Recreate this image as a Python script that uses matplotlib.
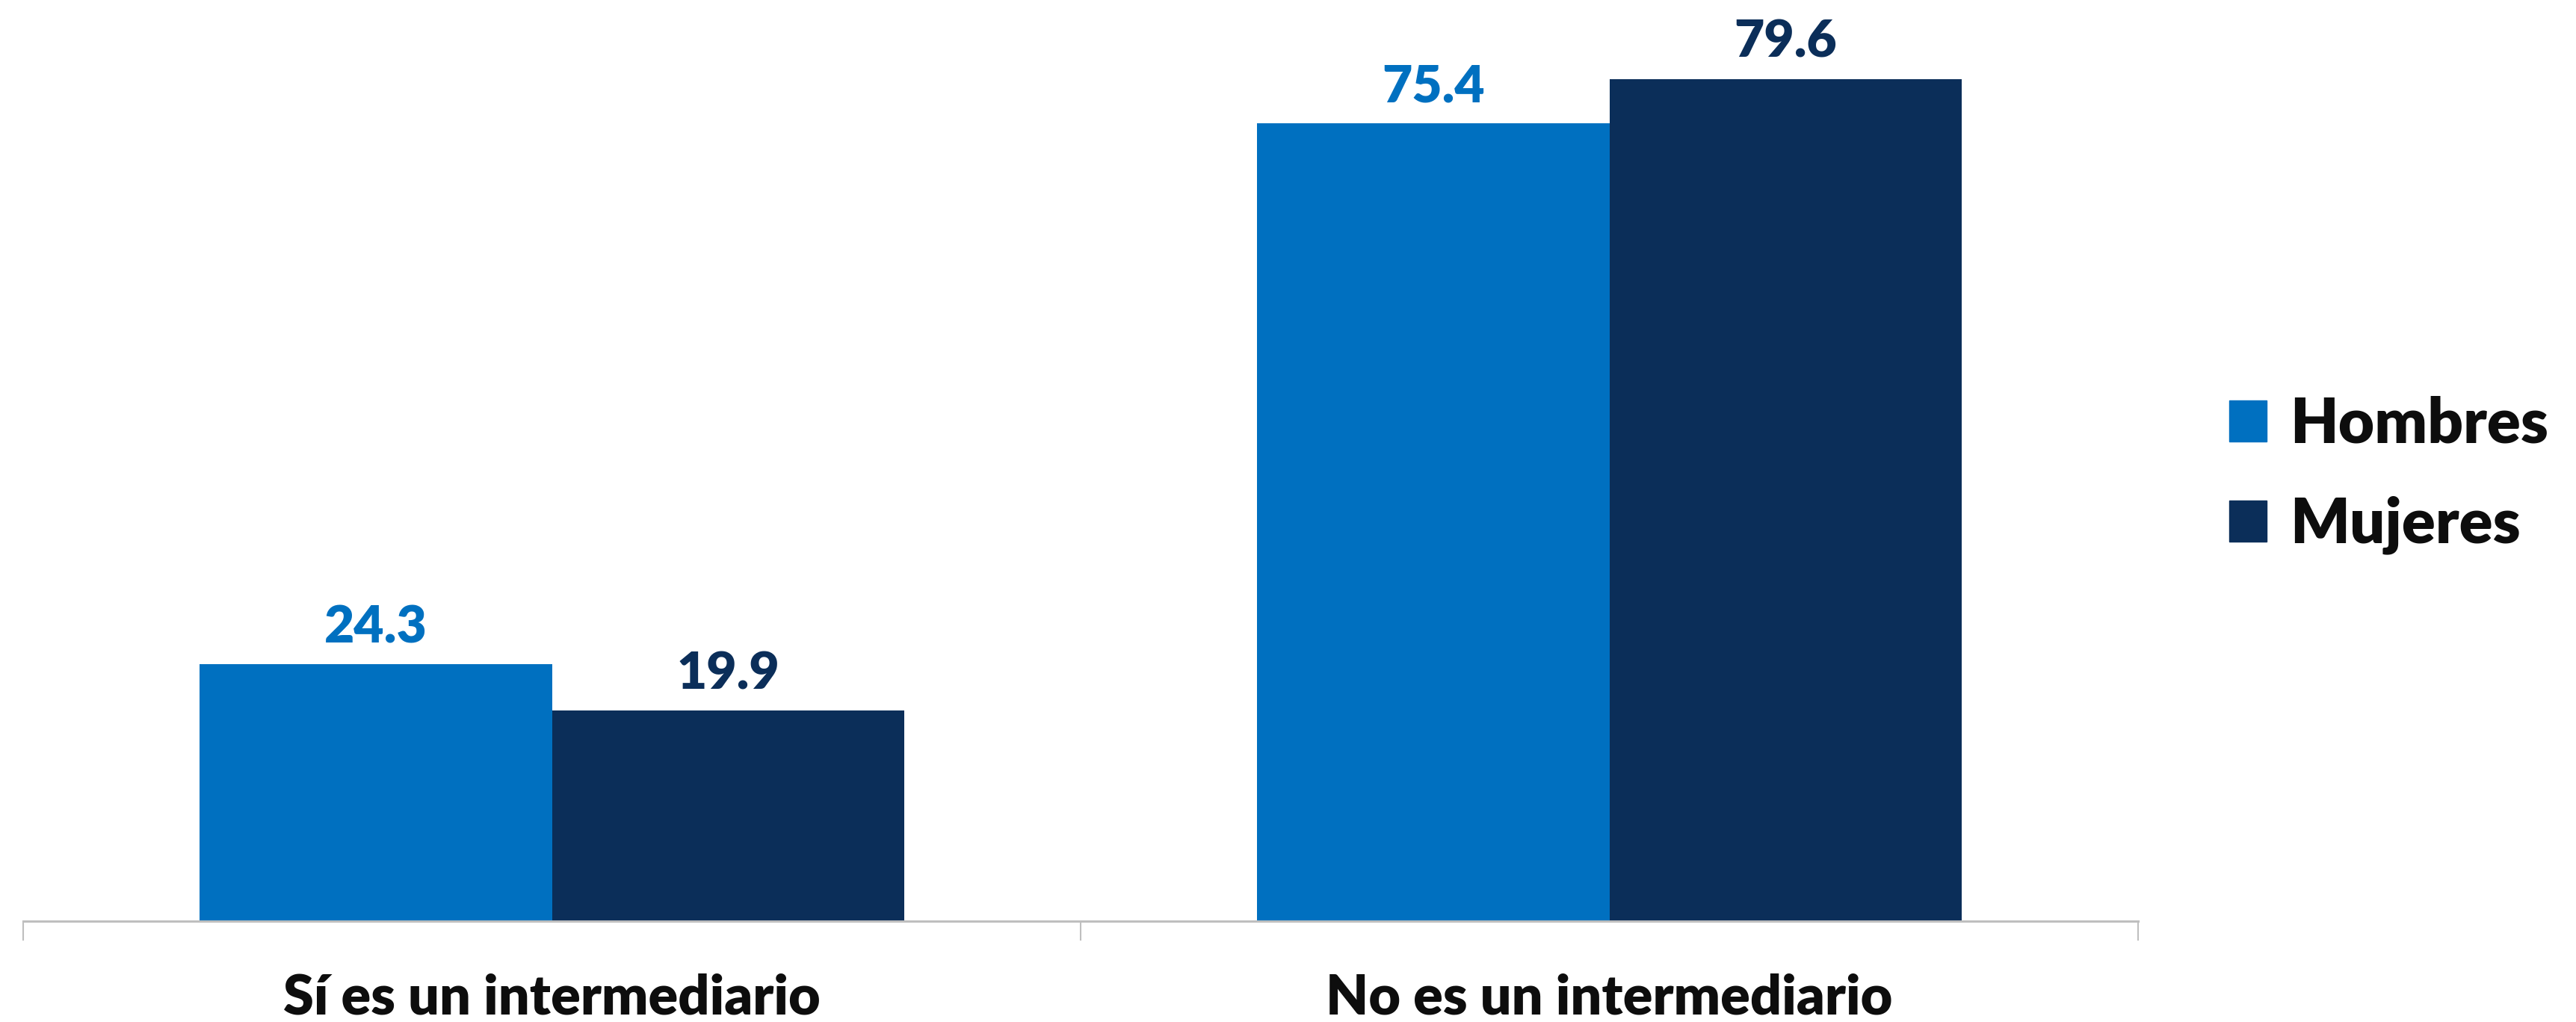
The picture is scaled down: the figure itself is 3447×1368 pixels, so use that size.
import numpy as np
import matplotlib
matplotlib.use('Agg')
import matplotlib.pyplot as plt
from matplotlib.patches import Patch

# datos
categorias = ['Sí es un intermediario', 'No es un intermediario']
series = ['Hombres', 'Mujeres']
hombres = [24.3, 75.4]
mujeres = [19.9, 79.6]
colores = ['#0070C0', '#0B2E59']

plt.rcParams['font.family'] = ['Lato', 'DejaVu Sans']

fig = plt.figure(figsize=(34.47, 13.68), dpi=100)
ax = fig.add_axes([0.009, 0.0987, 0.821, 0.880])

x = np.arange(len(categorias))
ancho = 1 / 3
b1 = ax.bar(x - ancho / 2, hombres, ancho, color=colores[0], label=series[0])
b2 = ax.bar(x + ancho / 2, mujeres, ancho, color=colores[1], label=series[1])

ax.bar_label(b1, labels=[f'{v:.1f}' for v in hombres], padding=12,
             fontsize=50, fontweight='heavy', color=colores[0])
ax.bar_label(b2, labels=[f'{v:.1f}' for v in mujeres], padding=12,
             fontsize=50, fontweight='heavy', color=colores[1])

ax.set_xlim(-0.5, 1.5)
ax.set_ylim(0, 85)

for s in ['top', 'right', 'left']:
    ax.spines[s].set_visible(False)
ax.spines['bottom'].set_color('#BFBFBF')
ax.spines['bottom'].set_linewidth(2.2)
ax.set_yticks([])

ax.set_xticks(x)
ax.set_xticklabels(categorias, fontsize=53, fontweight='heavy', color='#0D0D0D')
ax.tick_params(axis='x', which='major', length=0, pad=50)
ax.set_xticks([-0.5, 0.5, 1.5], minor=True)
ax.tick_params(axis='x', which='minor', length=19, width=1.5, color='#BFBFBF')

handles = [Patch(color=c) for c in colores]
fig.legend(handles, series, loc='center left', bbox_to_anchor=(0.8654, 0.535),
           frameon=False, prop={'size': 60, 'weight': 'heavy'},
           handlelength=0.6, handleheight=0.64, handletextpad=0.37,
           labelspacing=0.68, labelcolor='#0D0D0D', borderpad=0,
           borderaxespad=0)

fig.savefig('out.png', dpi=100)
